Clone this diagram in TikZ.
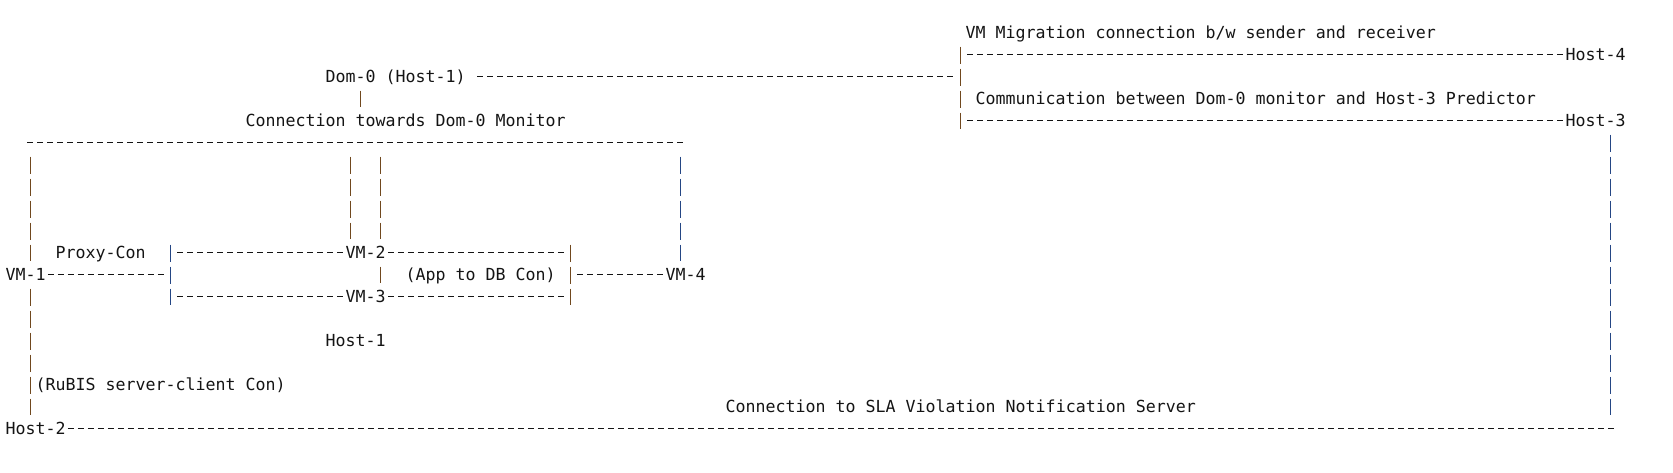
\documentclass[tikz,border=0pt]{standalone}
\usepackage{fontspec}
\setmonofont{DejaVu Sans Mono}
\usepackage{tikz}

\definecolor{ink}{RGB}{20,20,20}
\definecolor{pipebrown}{RGB}{112,72,30}
\definecolor{pipeblue}{RGB}{36,70,132}

\begin{document}
\begin{tikzpicture}[x=6pt,y=-13.2pt,
    lbl/.style={anchor=base west,inner sep=0pt,text=ink,font=\ttfamily\fontsize{9.97}{12}\selectfont},
    hdash/.style={draw=ink,line width=0.75pt,dash pattern=on 3.6pt off 2.4pt,dash phase=4.8pt},
    vbar/.style={draw=pipebrown,line width=0.9pt,dash pattern=on 10.2pt off 3pt},
    vbarb/.style={vbar,draw=pipeblue}]
    \useasboundingbox (-0.53,-1.741) rectangle (166.77,19.714);

    \node[lbl] (mig) at (96,0) {VM Migration connection b/w sender and receiver};
    \node[lbl] (h4) at (156,1) {Host-4};
    \node[lbl] (dom) at (32,2) {Dom-0 (Host-1)};
    \node[lbl] (comm) at (97,3) {Communication between Dom-0 monitor and Host-3 Predictor};
    \node[lbl] (tow) at (24,4) {Connection towards Dom-0 Monitor};
    \node[lbl] (h3) at (156,4) {Host-3};
    \node[lbl] (proxy) at (5,10) {Proxy-Con};
    \node[lbl] (vm2) at (34,10) {VM-2};
    \node[lbl] (vm1) at (0,11) {VM-1};
    \node[lbl] (app) at (40,11) {(App to DB Con)};
    \node[lbl] (vm4) at (66,11) {VM-4};
    \node[lbl] (vm3) at (34,12) {VM-3};
    \node[lbl] (h1) at (32,14) {Host-1};
    \node[lbl] (rubis) at (3,16) {(RuBIS server-client Con)};
    \node[lbl] (sla) at (72,17) {Connection to SLA Violation Notification Server};
    \node[lbl] (h2) at (0,18) {Host-2};

    \coordinate (mig0) at (96,0.75);
    \coordinate (pre0) at (96,3.75);
    \coordinate (dom0) at (47,1.75);
    \coordinate (dom1) at (95,1.75);
    \coordinate (mon0) at (2,4.75);
    \coordinate (mon1) at (68,4.75);
    \coordinate (up0) at (17,9.75);
    \coordinate (up1) at (56,9.75);
    \coordinate (mid0) at (16,10.75);
    \coordinate (mid1) at (57,10.75);
    \coordinate (lo0) at (17,11.75);
    \coordinate (lo1) at (56,11.75);
    \coordinate (sla0) at (161,17.75);

    \path[hdash] (mig0) -- (mig0 -| h4.west);
    \path[hdash] (pre0) -- (pre0 -| h3.west);
    \path[hdash] (dom0) -- (dom1);
    \path[hdash] (mon0) -- (mon1);
    \path[hdash] (up0) -- (up0 -| vm2.west);
    \path[hdash] (up1 -| vm2.east) -- (up1);
    \path[hdash] (mid0 -| vm1.east) -- (mid0);
    \path[hdash] (mid1) -- (mid1 -| vm4.west);
    \path[hdash] (lo0) -- (lo0 -| vm3.west);
    \path[hdash] (lo1 -| vm3.east) -- (lo1);
    \path[hdash] (sla0 -| h2.east) -- (sla0);

    \coordinate (hub0) at (95.5,0.373);
    \coordinate (hub1) at (95.5,4.145);
    \coordinate (dm0) at (35.5,2.373);
    \coordinate (dm1) at (35.5,3.145);
    \coordinate (w0) at (2.5,5.373);
    \coordinate (w1) at (2.5,10.145);
    \coordinate (w2) at (2.5,11.373);
    \coordinate (w3) at (2.5,17.145);
    \coordinate (ma0) at (34.5,5.373);
    \coordinate (ma1) at (34.5,9.145);
    \coordinate (mb0) at (37.5,5.373);
    \coordinate (mb1) at (37.5,9.145);
    \coordinate (mb2) at (37.5,10.373);
    \coordinate (mb3) at (37.5,11.145);
    \coordinate (e0) at (67.5,5.373);
    \coordinate (e1) at (67.5,10.145);
    \coordinate (bx0) at (16.5,9.373);
    \coordinate (bx1) at (16.5,12.145);
    \coordinate (by0) at (56.5,9.373);
    \coordinate (by1) at (56.5,12.145);
    \coordinate (r0) at (160.5,4.373);
    \coordinate (r1) at (160.5,17.145);

    \path[vbar] (hub0) -- (hub1);
    \path[vbar] (dm0) -- (dm1);
    \path[vbar] (w0) -- (w1);
    \path[vbar] (w2) -- (w3);
    \path[vbar] (ma0) -- (ma1);
    \path[vbar] (mb0) -- (mb1);
    \path[vbar] (mb2) -- (mb3);
    \path[vbarb] (e0) -- (e1);
    \path[vbarb] (bx0) -- (bx1);
    \path[vbar] (by0) -- (by1);
    \path[vbarb] (r0) -- (r1);
\end{tikzpicture}
\end{document}
